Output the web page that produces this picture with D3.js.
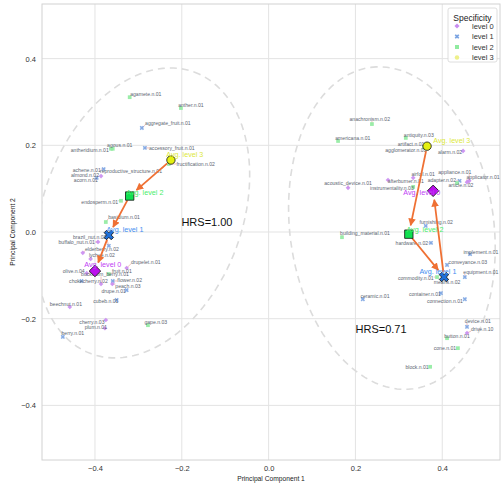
<!DOCTYPE html>
<html>
<head>
<meta charset="utf-8">
<script src="https://cdn.jsdelivr.net/npm/d3@7"></script>
<style>
  body { margin: 0; background: #fff; }
  svg { font-family: "Liberation Sans", Arial, sans-serif; }
</style>
</head>
<body>
<svg width="502" height="487"></svg>
<script>
// synset points (PCA coordinates), one entry per word
const names = [
  "agamete.n.01", "anther.n.01", "aggregate_fruit.n.01", "accessory_fruit.n.01", "agous.n.01",
  "antheridium.n.01", "reproductive_structure.n.01", "fructification.n.02", "achene.n.01", "almond.n.02",
  "acorn.n.01", "endosperm.n.01", "basidium.n.01", "brazil_nut.n.02", "buffalo_nut.n.01",
  "elderberry.n.02", "lychee.n.02", "drupelet.n.01", "olive.n.04", "fruit.n.01",
  "buckthorn_berry.n.01", "chokecherry.n.02", "flower.n.02", "peach.n.03", "drupe.n.01",
  "cubeb.n.01", "beechnut.n.01", "cherry.n.03", "plum.n.01", "berry.n.01", "gape.n.03",
  "anachronism.n.02", "americana.n.01", "antiquity.n.03", "artifact.n.01", "agglomerator.n.01",
  "alarm.n.02", "acoustic_device.n.01", "afterburner.n.01", "airfoil.n.01", "instrumentality.n.03",
  "appliance.n.01", "adapter.n.02", "applicator.n.01", "article.n.02", "furnishing.n.02",
  "building_material.n.01", "hardware.n.02", "commodity.n.01", "means.n.02", "conveyance.n.03",
  "implement.n.01", "equipment.n.01", "container.n.01", "connection.n.01", "ceramic.n.01",
  "device.n.01", "drive.n.10", "button.n.01", "cone.n.01", "block.n.01"
];
const levels = [
  2, 2, 1, 1, 2,
  2, 3, 2, 1, 0,
  1, 2, 2, 1, 0,
  0, 0, 0, 0, 2,
  0, 1, 1, 0, 1,
  1, 0, 0, 0, 1, 2,
  2, 2, 2, 3, 2,
  0, 0, 0, 0, 2,
  0, 1, 0, 2, 1,
  2, 1, 2, 1, 1,
  1, 1, 1, 1, 1,
  1, 0, 2, 2, 2
];
const pcX = [
  -0.320, -0.202, -0.292, -0.285, -0.359,
  -0.363, -0.225, -0.230, -0.380, -0.386,
  -0.396, -0.340, -0.375, -0.368, -0.393,
  -0.428, -0.410, -0.327, -0.419, -0.368,
  -0.386, -0.431, -0.359, -0.360, -0.327,
  -0.350, -0.458, -0.375, -0.377, -0.474, -0.278,
  0.238, 0.160, 0.316, 0.362, 0.358,
  0.448, 0.183, 0.275, 0.333, 0.333,
  0.462, 0.440, 0.457, 0.434, 0.362,
  0.169, 0.374, 0.388, 0.402, 0.411,
  0.464, 0.452, 0.397, 0.452, 0.217,
  0.457, 0.457, 0.411, 0.436, 0.372
];
const pcY = [
  0.311, 0.286, 0.240, 0.194, 0.192,
  0.192, 0.166, 0.157, 0.145, 0.129,
  0.125, 0.072, 0.023, -0.032, -0.023,
  -0.048, -0.062, -0.083, -0.095, -0.097,
  -0.120, -0.113, -0.113, -0.120, -0.134,
  -0.157, -0.173, -0.203, -0.222, -0.242, -0.215,
  0.249, 0.210, 0.217, 0.198, 0.195,
  0.187, 0.102, 0.120, 0.125, 0.104,
  0.118, 0.118, 0.115, 0.113, 0.014,
  -0.012, -0.025, -0.104, -0.104, -0.076,
  -0.051, -0.104, -0.141, -0.155, -0.155,
  -0.219, -0.233, -0.245, -0.268, -0.311
];
// where each word label ended up (PCA coordinates of the label centre)
const labelX = [
  -0.283, -0.179, -0.232, -0.223, -0.343,
  -0.412, -0.317, -0.168, -0.419, -0.423,
  -0.421, -0.389, -0.333, -0.412, -0.442,
  -0.384, -0.384, -0.283, -0.449, -0.338,
  -0.377, -0.415, -0.320, -0.324, -0.357,
  -0.375, -0.467, -0.407, -0.398, -0.451, -0.260,
  0.233, 0.194, 0.346, 0.328, 0.316,
  0.418, 0.183, 0.316, 0.356, 0.284,
  0.429, 0.399, 0.494, 0.443, 0.386,
  0.222, 0.330, 0.339, 0.411, 0.459,
  0.489, 0.489, 0.360, 0.406, 0.245,
  0.482, 0.492, 0.434, 0.406, 0.342
];
const labelY = [
  0.318, 0.293, 0.251, 0.194, 0.201,
  0.189, 0.141, 0.157, 0.144, 0.132,
  0.120, 0.069, 0.035, -0.012, -0.024,
  -0.039, -0.053, -0.069, -0.090, -0.090,
  -0.098, -0.113, -0.111, -0.124, -0.136,
  -0.159, -0.166, -0.208, -0.219, -0.233, -0.208,
  0.261, 0.217, 0.224, 0.203, 0.189,
  0.185, 0.113, 0.118, 0.134, 0.102,
  0.138, 0.120, 0.127, 0.108, 0.023,
  -0.002, -0.025, -0.106, -0.115, -0.069,
  -0.046, -0.092, -0.143, -0.159, -0.148,
  -0.205, -0.224, -0.240, -0.268, -0.311
];

// averages per specificity level, for the two hierarchies
const avgLevels = [0, 1, 2, 3];
const fruitAvgX = [-0.400, -0.368, -0.320, -0.225];
const fruitAvgY = [-0.090, -0.007, 0.083, 0.166];
const artifactAvgX = [0.379, 0.404, 0.323, 0.365];
const artifactAvgY = [0.095, -0.104, -0.005, 0.198];
const fruitAvgLabelX = [-0.382, -0.331, -0.285, -0.193];
const fruitAvgLabelY = [-0.076, 0.005, 0.090, 0.178];
const artifactAvgLabelX = [0.353, 0.390, 0.360, 0.422];
const artifactAvgLabelY = [0.090, -0.092, 0.005, 0.212];

// dashed ellipses around each hierarchy
const ellipseCx = [-0.290, 0.284];
const ellipseCy = [0.044, 0.009];
const ellipseA = [0.346, 0.374];   // half major axis
const ellipseB = [0.230, 0.235];   // half minor axis
const ellipseTilt = [20, -7.5];    // degrees, clockwise from vertical
const hrsText = ["HRS=1.00", "HRS=0.71"];
const hrsX = [-0.142, 0.259];
const hrsY = [0.023, -0.224];

const xTicks = [-0.4, -0.2, 0.0, 0.2, 0.4];
const yTicks = [-0.4, -0.2, 0.0, 0.2, 0.4];
const legendLabels = ["level 0", "level 1", "level 2", "level 3"];

const pointColor = ["#c98cf0", "#7aa3e2", "#90eba0", "#eef08a"];
const avgColor = ["#bb10ee", "#1f6fd8", "#10e050", "#e4f010"];
const avgTextColor = ["#c040f4", "#3f8ef0", "#48ee6a", "#dce838"];

const svg = d3.select("svg");
const pL = 42, pR = 500, pT = 4, pB = 460;
const x = d3.scaleLinear().domain([-0.522, 0.533]).range([pL, pR]);
const y = d3.scaleLinear().domain([-0.526, 0.526]).range([pB, pT]);

// grid
svg.append("g").selectAll("line").data(xTicks).enter().append("line")
  .attr("x1", d => x(d)).attr("x2", d => x(d)).attr("y1", pT).attr("y2", pB)
  .attr("stroke", "#e3e3e3").attr("stroke-width", 1);
svg.append("g").selectAll("line").data(yTicks).enter().append("line")
  .attr("y1", d => y(d)).attr("y2", d => y(d)).attr("x1", pL).attr("x2", pR)
  .attr("stroke", "#e3e3e3").attr("stroke-width", 1);

svg.append("rect").attr("x", pL).attr("y", pT)
  .attr("width", pR - pL).attr("height", pB - pT)
  .attr("fill", "none").attr("stroke", "#d2d2d2").attr("stroke-width", 1);

// axes
const fmt = d3.format(".1f");
const xAxis = svg.append("g").attr("transform", `translate(0,${pB})`)
  .call(d3.axisBottom(x).tickValues(xTicks).tickFormat(fmt).tickSize(0).tickPadding(6));
const yAxis = svg.append("g").attr("transform", `translate(${pL},0)`)
  .call(d3.axisLeft(y).tickValues(yTicks).tickFormat(fmt).tickSize(0).tickPadding(6));
[xAxis, yAxis].forEach(a => {
  a.select(".domain").remove();
  a.selectAll("text").attr("fill", "#333").style("font-size", "7.5px")
    .style("font-family", "Liberation Sans, Arial, sans-serif");
});

svg.append("text").attr("x", (pL + pR) / 2).attr("y", 481)
  .attr("text-anchor", "middle").attr("font-size", "6.7px").attr("fill", "#222")
  .text("Principal Component 1");
svg.append("text").attr("transform", `translate(15,${(pT + pB) / 2}) rotate(-90)`)
  .attr("text-anchor", "middle").attr("font-size", "6.7px").attr("fill", "#222")
  .text("Principal Component 2");

svg.append("clipPath").attr("id", "clip").append("rect")
  .attr("x", pL).attr("y", pT).attr("width", pR - pL).attr("height", pB - pT);
const plot = svg.append("g").attr("clip-path", "url(#clip)");

// ellipses
ellipseCx.forEach((cx, i) => {
  const t = ellipseTilt[i] * Math.PI / 180;
  const ux = Math.sin(t), uy = Math.cos(t);
  const vx = Math.cos(t), vy = -Math.sin(t);
  const pts = d3.range(0, 361, 3).map(a => {
    const r = a * Math.PI / 180;
    return [cx + ellipseA[i] * Math.cos(r) * ux + ellipseB[i] * Math.sin(r) * vx,
            ellipseCy[i] + ellipseA[i] * Math.cos(r) * uy + ellipseB[i] * Math.sin(r) * vy];
  });
  plot.append("path")
    .attr("d", d3.line().x(d => x(d[0])).y(d => y(d[1]))(pts))
    .attr("fill", "none").attr("stroke", "#dcdcdc").attr("stroke-width", 1.6)
    .attr("stroke-dasharray", "7,5");
});

// matplotlib-like markers: D, X, s, o
const symbolFor = [d3.symbolSquare, d3.symbolCross, d3.symbolSquare, d3.symbolCircle];
const symbolRot = [45, 45, 0, 0];
const smallSize = [11, 12, 14, 14];
const avgSize = [66, 55, 70, 55];

const points = names.map((n, i) => ({
  name: n, level: levels[i], px: pcX[i], py: pcY[i], lx: labelX[i], ly: labelY[i]
}));

const lineLayer = plot.append("g");
const markLayer = plot.append("g");
const labelLayer = plot.append("g");

const labels = labelLayer.selectAll("text").data(points).enter().append("text")
  .attr("x", d => x(d.lx)).attr("y", d => y(d.ly))
  .attr("text-anchor", "middle").attr("dominant-baseline", "central")
  .attr("font-size", "5.1px").attr("fill", "#5b6470")
  .text(d => d.name);

labels.each(function (d) {
  const b = this.getBBox();
  const mx = x(d.px), my = y(d.py);
  const cx = Math.max(b.x, Math.min(mx, b.x + b.width));
  const cy = Math.max(b.y + 1, Math.min(my, b.y + b.height - 1));
  if (Math.hypot(cx - mx, cy - my) > 2) {
    lineLayer.append("line")
      .attr("x1", mx).attr("y1", my).attr("x2", cx).attr("y2", cy)
      .attr("stroke", "#e07a7a").attr("stroke-width", 0.6).attr("opacity", 0.8);
  }
});

markLayer.selectAll("path").data(points).enter().append("path")
  .attr("transform", d => `translate(${x(d.px)},${y(d.py)}) rotate(${symbolRot[d.level]})`)
  .attr("d", d => d3.symbol().type(symbolFor[d.level]).size(smallSize[d.level])())
  .attr("fill", d => pointColor[d.level]).attr("opacity", 0.9);

// arrows between level averages
svg.append("defs").append("marker")
  .attr("id", "head").attr("viewBox", "0 0 10 10").attr("refX", 9).attr("refY", 5)
  .attr("markerWidth", 4.4).attr("markerHeight", 4.2).attr("markerUnits", "strokeWidth")
  .attr("orient", "auto")
  .append("path").attr("d", "M0,0L10,5L0,10z").attr("fill", "#ef7033");

function drawAverages(ax, ay, lx, ly) {
  const arrowLayer = plot.append("g");
  for (let k = 3; k > 0; k--) {
    const x1 = x(ax[k]), y1 = y(ay[k]), x2 = x(ax[k - 1]), y2 = y(ay[k - 1]);
    const len = Math.hypot(x2 - x1, y2 - y1);
    const ux = (x2 - x1) / len, uy = (y2 - y1) / len;
    arrowLayer.append("line")
      .attr("x1", x1 + ux * 5).attr("y1", y1 + uy * 5)
      .attr("x2", x2 - ux * 9).attr("y2", y2 - uy * 9)
      .attr("stroke", "#ef7033").attr("stroke-width", 1.8)
      .attr("marker-end", "url(#head)");
  }
  avgLevels.forEach(k => {
    plot.append("path")
      .attr("transform", `translate(${x(ax[k])},${y(ay[k])}) rotate(${symbolRot[k]})`)
      .attr("d", d3.symbol().type(symbolFor[k]).size(avgSize[k])())
      .attr("fill", avgColor[k]).attr("stroke", "#111").attr("stroke-width", 0.8);
    plot.append("text")
      .attr("x", x(lx[k])).attr("y", y(ly[k]))
      .attr("text-anchor", "middle").attr("dominant-baseline", "central")
      .attr("font-size", "7.2px").attr("fill", avgTextColor[k])
      .text("Avg. level " + avgLevels[k]);
  });
}
drawAverages(fruitAvgX, fruitAvgY, fruitAvgLabelX, fruitAvgLabelY);
drawAverages(artifactAvgX, artifactAvgY, artifactAvgLabelX, artifactAvgLabelY);

hrsText.forEach((t, i) => {
  plot.append("text").attr("x", x(hrsX[i])).attr("y", y(hrsY[i]))
    .attr("text-anchor", "middle").attr("dominant-baseline", "central")
    .attr("font-size", "11px").attr("fill", "#111").text(t);
});

// legend
const lg = svg.append("g").attr("transform", "translate(448,8)");
lg.append("rect").attr("width", 49).attr("height", 54).attr("rx", 2)
  .attr("fill", "#fff").attr("fill-opacity", 0.85).attr("stroke", "#d6d6d6").attr("stroke-width", 0.8);
lg.append("text").attr("x", 24.5).attr("y", 10).attr("text-anchor", "middle")
  .attr("dominant-baseline", "central").attr("font-size", "8.5px").attr("fill", "#222")
  .text("Specificity");
legendLabels.forEach((t, k) => {
  const yy = 18 + k * 10.5;
  lg.append("path")
    .attr("transform", `translate(9,${yy}) rotate(${symbolRot[k]})`)
    .attr("d", d3.symbol().type(symbolFor[k]).size(smallSize[k] + 2)())
    .attr("fill", pointColor[k]);
  lg.append("text").attr("x", 24).attr("y", yy).attr("dominant-baseline", "central")
    .attr("font-size", "7.5px").attr("fill", "#333").text(t);
});
</script>
</body>
</html>
